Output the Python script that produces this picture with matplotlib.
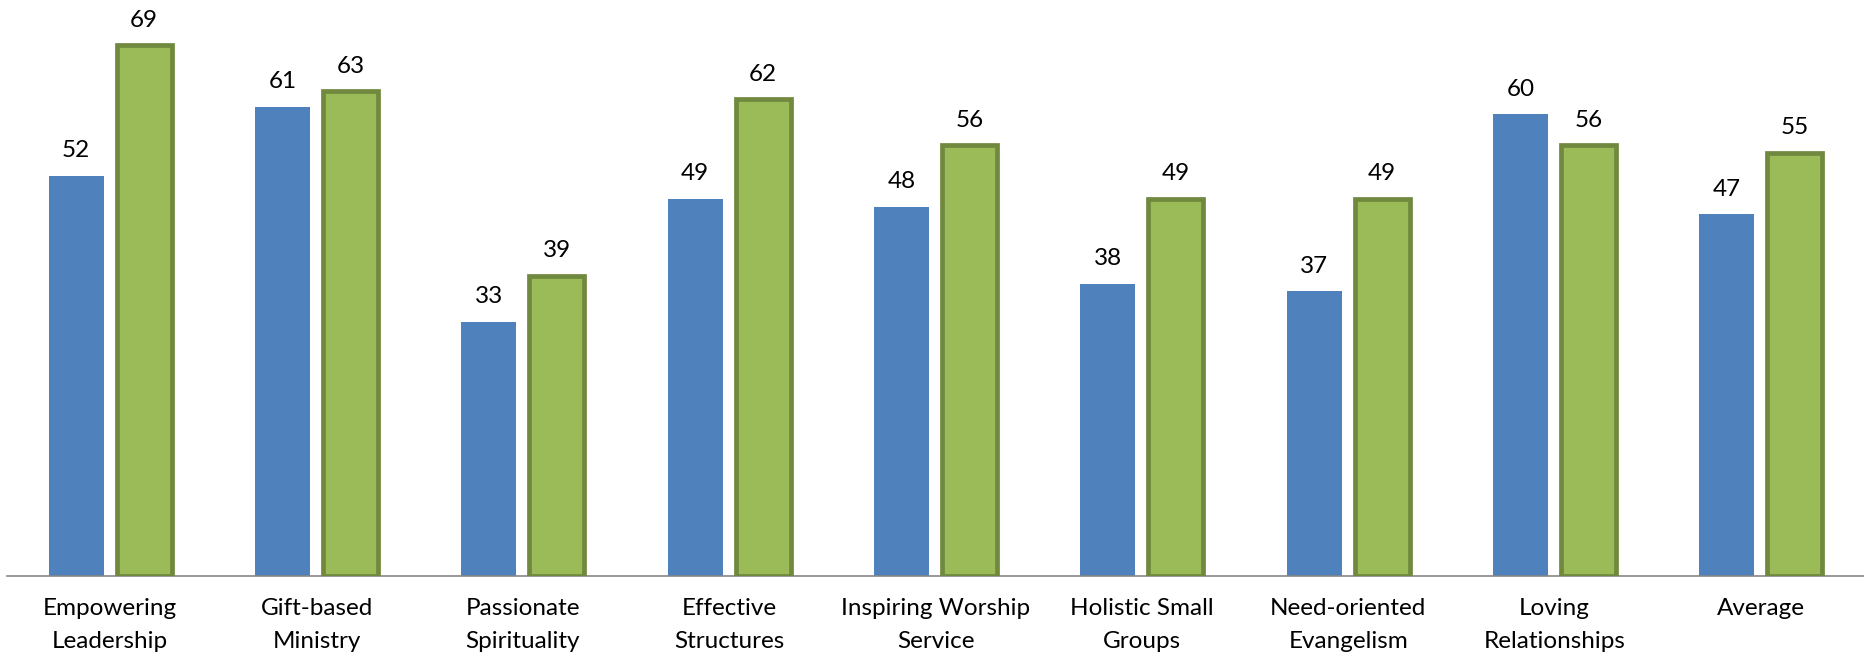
import numpy as np
import matplotlib
matplotlib.use('Agg')
import matplotlib.pyplot as plt

plt.rcParams['font.family'] = ['Lato', 'DejaVu Sans']

categories = ['Empowering\nLeadership', 'Gift-based\nMinistry', 'Passionate\nSpirituality',
              'Effective\nStructures', 'Inspiring Worship\nService', 'Holistic Small\nGroups',
              'Need-oriented\nEvangelism', 'Loving\nRelationships', 'Average']
blue_vals = [52, 61, 33, 49, 48, 38, 37, 60, 47]
green_vals = [69, 63, 39, 62, 56, 49, 49, 56, 55]

fig = plt.figure(figsize=(18.64, 6.58), dpi=100)
ax = fig.add_axes([7 / 1864, (658 - 575.5) / 658, 1 - 7 / 1864, 575.5 / 658])

x = np.arange(len(categories))
w = 0.267
off = 0.165
b1 = ax.bar(x - off, blue_vals, w, color='#4F81BD', zorder=2)
b2 = ax.bar(x + off, green_vals, w, color='#9BBB59', edgecolor='#71893F',
            linewidth=3.4, zorder=3)

for rect, v in zip(b1, blue_vals):
    ax.annotate(str(v), (rect.get_x() + rect.get_width() / 2, v), xytext=(0, 10.5),
                textcoords='offset points', ha='center', va='bottom', fontsize=17.5)
for rect, v in zip(b2, green_vals):
    ax.annotate(str(v), (rect.get_x() + rect.get_width() / 2, v), xytext=(0, 10.5),
                textcoords='offset points', ha='center', va='bottom', fontsize=17.5)

ax.set_xlim(-0.5, len(categories) - 0.5)
ax.set_ylim(0, 74.9)
ax.set_xticks(x)
ax.set_xticklabels(categories, fontsize=17.5, linespacing=1.75)
ax.tick_params(axis='x', length=0, pad=16)
ax.set_yticks([])
for s in ['top', 'right', 'left']:
    ax.spines[s].set_visible(False)
ax.spines['bottom'].set_color('#868686')
ax.spines['bottom'].set_linewidth(1.2)
ax.patch.set_alpha(0)

fig.savefig('out.png', dpi=100)
